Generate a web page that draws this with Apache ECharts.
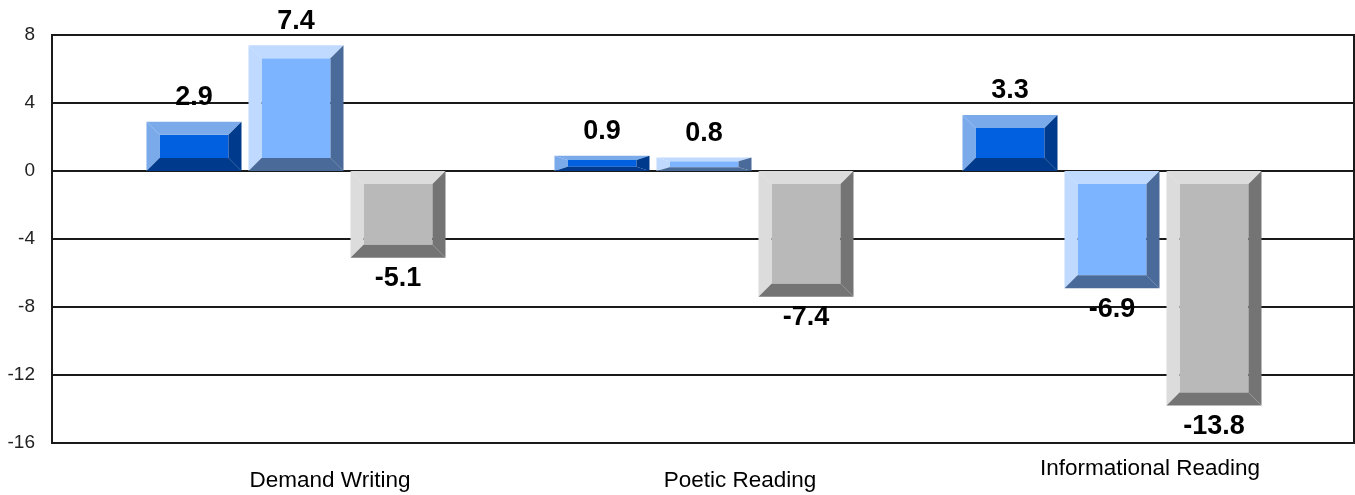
<!DOCTYPE html>
<html>
<head>
<meta charset="utf-8">
<script src="https://cdn.jsdelivr.net/npm/echarts@6/dist/echarts.min.js"></script>
<style>
html,body{margin:0;padding:0;background:#fff;}
#chart{width:1355px;height:495px;}
</style>
</head>
<body>
<div id="chart"></div>
<script>
// ---- data ----
const categories = ['Demand Writing', 'Poetic Reading', 'Informational Reading'];
const seriesA = [2.9, 0.9, 3.3];
const seriesB = [7.4, 0.8, -6.9];
const seriesC = [-5.1, -7.4, -13.8];
const yTicks = [-16, -12, -8, -4, 0, 4, 8];

// ---- styles ----
const FONT = "'Liberation Sans', Arial, sans-serif";
const palettes = [
  { light: '#7BAAEA', face: '#0060E0', dark: '#003A8C' },
  { light: '#C0DAFF', face: '#7DB4FF', dark: '#4A6A99' },
  { light: '#DCDCDC', face: '#B9B9B9', dark: '#747474' }
];
const BAR_W = 95, STEP = 102, BEVEL = 13;

function makeRender(si) {
  const pal = palettes[si];
  return function (params, api) {
    const cat = api.value(0), v = api.value(1);
    const p = api.coord([cat, v]);
    const z = api.coord([cat, 0]);
    const cx = p[0] + (si - 1) * STEP;
    const x0 = cx - BAR_W / 2, x1 = cx + BAR_W / 2;
    const y0 = Math.min(p[1], z[1]), y1 = Math.max(p[1], z[1]);
    const h = y1 - y0;
    const b = BEVEL;
    const bv = Math.min(BEVEL, h * 0.28);
    const poly = (pts, fill) => ({ type: 'polygon', shape: { points: pts }, style: { fill: fill } });
    const children = [
      poly([[x0 + b, y0 + bv], [x1 - b, y0 + bv], [x1 - b, y1 - bv], [x0 + b, y1 - bv]], pal.face),
      poly([[x0, y0], [x1, y0], [x1 - b, y0 + bv], [x0 + b, y0 + bv]], pal.light),
      poly([[x0, y0], [x0 + b, y0 + bv], [x0 + b, y1 - bv], [x0, y1]], pal.light),
      poly([[x1, y0], [x1, y1], [x1 - b, y1 - bv], [x1 - b, y0 + bv]], pal.dark),
      poly([[x0, y1], [x1, y1], [x1 - b, y1 - bv], [x0 + b, y1 - bv]], pal.dark),
      {
        type: 'text',
        z2: 10,
        style: {
          text: v.toFixed(1),
          x: cx,
          y: v >= 0 ? y0 - 24 : y1 + 21,
          align: 'center',
          verticalAlign: 'middle',
          font: 'bold 27px ' + FONT,
          fill: '#000'
        }
      }
    ];
    return { type: 'group', children: children };
  };
}

const allSeries = [seriesA, seriesB, seriesC];

const option = {
  animation: false,
  backgroundColor: '#fff',
  grid: [
    { left: 52, top: 35, width: 1302, height: 408, show: true, borderColor: '#1a1a1a', borderWidth: 2, backgroundColor: 'transparent' },
    { left: 92, top: 35, width: 1224, height: 408 },
    { left: 125, top: 35, width: 1260, height: 408 }
  ],
  xAxis: [
    { gridIndex: 0, type: 'category', data: categories, axisLine: { show: false }, axisTick: { show: false }, axisLabel: { show: false } },
    { gridIndex: 1, type: 'category', data: categories, show: false },
    {
      gridIndex: 2, type: 'category',
      data: categories.map((c, i) => i === 2 ? { value: c, textStyle: { verticalAlign: 'middle' } } : c),
      axisLine: { show: false }, axisTick: { show: false },
      axisLabel: { margin: 26, fontSize: 22.5, fontFamily: FONT, color: '#000', interval: 0 }
    }
  ],
  yAxis: [
    {
      gridIndex: 0, type: 'value', min: yTicks[0], max: yTicks[yTicks.length - 1], interval: 4,
      axisLine: { show: true, lineStyle: { color: '#1a1a1a', width: 2 } },
      axisTick: { show: false },
      axisLabel: { margin: 17, fontSize: 19, fontFamily: FONT, color: '#222' },
      splitLine: { show: true, lineStyle: { color: '#1a1a1a', width: 2 } }
    },
    { gridIndex: 1, type: 'value', min: yTicks[0], max: yTicks[yTicks.length - 1], interval: 4, show: false, splitLine: { show: false } },
    { gridIndex: 2, type: 'value', min: yTicks[0], max: yTicks[yTicks.length - 1], interval: 4, show: false, splitLine: { show: false } }
  ],
  series: allSeries.map((arr, si) => ({
    type: 'custom',
    xAxisIndex: 1,
    yAxisIndex: 1,
    z: 5,
    data: arr.map((v, i) => [i, v]),
    encode: { x: 0, y: 1 },
    renderItem: makeRender(si)
  }))
};

const chart = echarts.init(document.getElementById('chart'), null, { renderer: 'canvas' });
chart.setOption(option);
</script>
</body>
</html>
